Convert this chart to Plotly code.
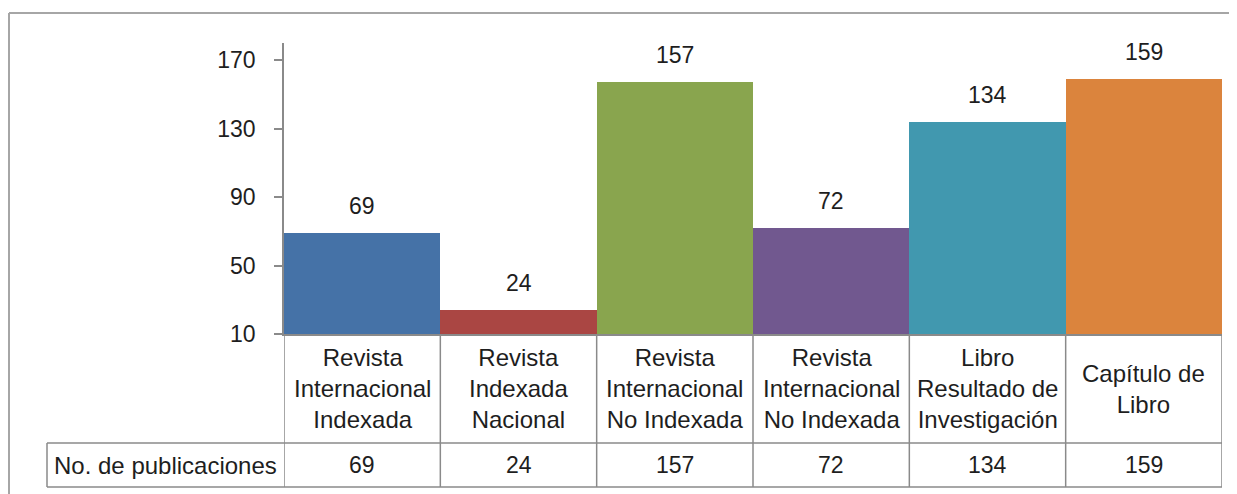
import plotly.graph_objects as go

# ---- data ----
categories = [
    "Revista<br>Internacional<br>Indexada",
    "Revista<br>Indexada<br>Nacional",
    "Revista<br>Internacional<br>No Indexada",
    "Revista<br>Internacional<br>No Indexada",
    "Libro<br>Resultado de<br>Investigación",
    "Capítulo de<br>Libro",
]
publicaciones = [69, 24, 157, 72, 134, 159]
row_label = "No. de publicaciones"
y_ticks = [10, 50, 90, 130, 170]
colors = ["#4572A7", "#AA4643", "#89A54E", "#71588F", "#4198AF", "#DB843D"]

# ---- layout geometry (window pixels; page body has an 8px margin) ----
OFF = 8
W, H = 1237 - OFF, 494 - OFF
L, R, T, B = 284 - OFF, 1222 - OFF, 43 - OFF, 334 - OFF   # plot area
ROW1_BOTTOM = 443 - OFF
ROW2_BOTTOM = 487 - OFF
TABLE_LEFT = 47 - OFF
FRAME_LEFT, FRAME_TOP = 8 - OFF, 13 - OFF


def py(p):
    return (B - p) / (B - T)


def pxp(p):
    return (p - L) / (R - L)


FONT = "Liberation Sans, Arial, sans-serif"
TXT = "#1e1e1e"
LINE = "#8a8a8a"

xs = list(range(len(publicaciones)))

fig = go.Figure()
fig.add_trace(go.Bar(
    x=xs, y=publicaciones,
    marker=dict(color=colors, line=dict(width=0)),
    hoverinfo="y", showlegend=False,
))

annotations = []
# value labels above bars
for x, v in zip(xs, publicaciones):
    annotations.append(dict(x=x, y=v, xref="x", yref="y", text=str(v),
                            showarrow=False, yanchor="bottom", yshift=12,
                            font=dict(family=FONT, size=23, color=TXT)))
# category labels in table
for x, c in zip(xs, categories):
    annotations.append(dict(x=x, y=py((B + ROW1_BOTTOM) / 2), xref="x", yref="paper",
                            text=c, showarrow=False, xanchor="center", yanchor="middle",
                            font=dict(family=FONT, size=24, color=TXT)))
# data row values
for x, v in zip(xs, publicaciones):
    annotations.append(dict(x=x, y=py((ROW1_BOTTOM + ROW2_BOTTOM) / 2), xref="x", yref="paper",
                            text=str(v), showarrow=False, xanchor="center", yanchor="middle",
                            font=dict(family=FONT, size=23, color=TXT)))
annotations.append(dict(x=pxp((TABLE_LEFT + L) / 2), y=py((ROW1_BOTTOM + ROW2_BOTTOM) / 2),
                        xref="paper", yref="paper", text=row_label, showarrow=False,
                        xanchor="center", yanchor="middle",
                        font=dict(family=FONT, size=24, color=TXT)))

shapes = []
lw = 1.5
# vertical table lines
for i in range(len(xs) + 1):
    shapes.append(dict(type="line", xref="x", yref="paper", x0=i - 0.5, x1=i - 0.5,
                       y0=py(B), y1=py(ROW2_BOTTOM), line=dict(color=LINE, width=lw)))
# horizontal table lines
for yy in (ROW1_BOTTOM, ROW2_BOTTOM):
    shapes.append(dict(type="line", xref="paper", yref="paper", x0=pxp(TABLE_LEFT), x1=1,
                       y0=py(yy), y1=py(yy), line=dict(color=LINE, width=lw)))
shapes.append(dict(type="line", xref="paper", yref="paper", x0=pxp(TABLE_LEFT), x1=pxp(TABLE_LEFT),
                   y0=py(ROW1_BOTTOM), y1=py(ROW2_BOTTOM), line=dict(color=LINE, width=lw)))
# outer chart frame (top and left edges)
shapes.append(dict(type="line", xref="paper", yref="paper", x0=pxp(FRAME_LEFT + 1), x1=pxp(W + 20),
                   y0=py(FRAME_TOP), y1=py(FRAME_TOP), line=dict(color="#a6a6a6", width=2)))
shapes.append(dict(type="line", xref="paper", yref="paper", x0=pxp(FRAME_LEFT + 1), x1=pxp(FRAME_LEFT + 1),
                   y0=py(FRAME_TOP), y1=py(H + 20), line=dict(color="#a6a6a6", width=2)))

fig.update_layout(
    width=W, height=H,
    margin=dict(l=L, r=W - R, t=T, b=H - B, pad=0),
    paper_bgcolor="white", plot_bgcolor="white",
    bargap=0,
    showlegend=False,
    annotations=annotations,
    shapes=shapes,
    font=dict(family=FONT, size=23, color=TXT),
    xaxis=dict(range=[-0.5, len(xs) - 0.5], showticklabels=False, ticks="",
               showline=True, linecolor=LINE, linewidth=lw, showgrid=False,
               zeroline=False, fixedrange=True),
    yaxis=dict(range=[10, 180], tickvals=y_ticks, ticks="outside", ticklen=8,
               tickcolor=LINE, tickwidth=lw, showline=True, linecolor=LINE, linewidth=lw,
               showgrid=False, zeroline=False, ticklabelstandoff=14,
               tickfont=dict(family=FONT, size=23, color=TXT), fixedrange=True),
)

fig.write_html("out.html")
